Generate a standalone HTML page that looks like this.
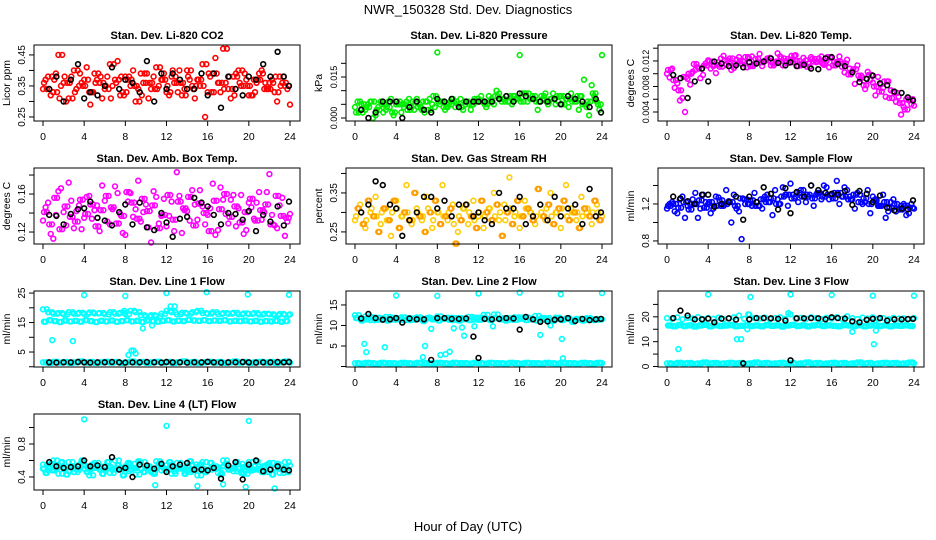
<!DOCTYPE html>
<html><head><meta charset="utf-8">
<style>
html,body{margin:0;padding:0;background:#fff;}
svg{display:block;font-family:"Liberation Sans",Arial,sans-serif;}
</style></head>
<body>
<svg id="chart" width="936" height="540" viewBox="0 0 936 540">
<text x="468" y="14" font-size="13" text-anchor="middle">NWR_150328 Std. Dev. Diagnostics</text>
<text x="468" y="531" font-size="13" text-anchor="middle">Hour of Day (UTC)</text>
</svg>
<script>
const hrsA=[0,0.5,1,1.5,2,2.5,3,3.5,4,4.5,5,5.5,6,6.5,7,7.5,8,8.5,9,9.5,10,10.5,11,11.5,12,12.5,13,13.5,14,14.5,15,15.5,16,16.5,17,17.5,18,18.5,19,19.5,20,20.5,21,21.5,22,22.5,23,23.5,24];
const hrsB=[0.25,0.75,1.25,1.75,2.25,2.75,3.25,3.75,4.25,4.75,5.25,5.75,6.25,6.75,7.25,7.75,8.25,8.75,9.25,9.75,10.25,10.75,11.25,11.75,12.25,12.75,13.25,13.75,14.25,14.75,15.25,15.75,16.25,16.75,17.25,17.75,18.25,18.75,19.25,19.75,20.25,20.75,21.25,21.75,22.25,22.75,23.25,23.75];
const hrsC=[0.1,0.6,1.1,1.6,2.1,2.6,3.1,3.6,4.1,4.6,5.1,5.6,6.1,6.6,7.1,7.6,8.1,8.6,9.1,9.6,10.1,10.6,11.1,11.6,12.1,12.6,13.1,13.6,14.1,14.6,15.1,15.6,16.1,16.6,17.1,17.6,18.1,18.6,19.1,19.6,20.1,20.6,21.1,21.6,22.1,22.6,23.1,23.6];
const hrsD=[0.37,0.87,1.37,1.87,2.37,2.87,3.37,3.87,4.37,4.87,5.37,5.87,6.37,6.87,7.37,7.87,8.37,8.87,9.37,9.87,10.37,10.87,11.37,11.87,12.37,12.87,13.37,13.87,14.37,14.87,15.37,15.87,16.37,16.87,17.37,17.87,18.37,18.87,19.37,19.87,20.37,20.87,21.37,21.87,22.37,22.87,23.37,23.87];
const hrsK=[0.6,1.3,2.0,2.7,3.4,4.0,4.6,5.3,6.0,6.7,7.4,8.0,8.7,9.4,10.1,10.8,11.5,12.0,12.6,13.3,14.0,14.7,15.4,16.0,16.6,17.3,18.0,18.7,19.4,20.0,20.7,21.4,22.1,22.8,23.4,23.9];
const xTicks=[0,4,8,12,16,20,24];

const co2A=[0.34,0.38,0.33,0.45,0.36,0.31,0.40,0.35,0.37,0.33,0.39,0.36,0.34,0.42,0.37,0.32,0.38,0.35,0.30,0.39,0.36,0.34,0.41,0.37,0.33,0.38,0.36,0.32,0.40,0.35,0.37,0.42,0.33,0.39,0.36,0.47,0.34,0.38,0.40,0.35,0.32,0.37,0.39,0.34,0.36,0.33,0.38,0.35,0.29];
const co2B=[0.37,0.32,0.39,0.35,0.30,0.38,0.34,0.36,0.41,0.33,0.37,0.31,0.38,0.35,0.43,0.33,0.37,0.40,0.34,0.36,0.31,0.38,0.35,0.39,0.32,0.36,0.40,0.34,0.37,0.31,0.35,0.25,0.38,0.44,0.33,0.36,0.31,0.39,0.35,0.37,0.32,0.36,0.40,0.34,0.37,0.30,0.36,0.34];
const co2C=[0.36,0.34,0.37,0.31,0.38,0.36,0.33,0.39,0.35,0.29,0.36,0.38,0.35,0.31,0.36,0.38,0.33,0.37,0.35,0.32,0.39,0.36,0.34,0.37,0.35,0.40,0.33,0.36,0.38,0.34,0.37,0.35,0.39,0.33,0.36,0.34,0.38,0.32,0.36,0.39,0.35,0.33,0.37,0.36,0.34,0.38,0.35,0.36];
const co2K=[0.34,0.38,0.30,0.37,0.42,0.31,0.33,0.32,0.35,0.41,0.34,0.37,0.36,0.33,0.43,0.30,0.39,0.34,0.39,0.37,0.34,0.34,0.39,0.32,0.39,0.28,0.38,0.34,0.32,0.38,0.37,0.42,0.38,0.46,0.38,0.35];

const prA=[0.004,0.006,0.003,0.006,0.001,0.006,0.003,0.007,0.005,0.002,0.006,0.004,0.007,0.003,0.006,0.005,0.024,0.006,0.004,0.007,0.005,0.003,0.006,0.005,0.007,0.006,0.008,0.005,0.009,0.007,0.006,0.008,0.023,0.009,0.007,0.008,0.006,0.009,0.007,0.005,0.008,0.007,0.009,0.006,0.008,0.004,0.012,0.006,0.023];
const prB=[0.006,0.002,0.005,0.000,0.004,0.002,0.006,0.001,0.005,0.004,0.007,0.003,0.005,0.002,0.007,0.004,0.005,0.003,0.006,0.004,0.007,0.005,0.003,0.006,0.008,0.004,0.007,0.010,0.006,0.008,0.005,0.007,0.009,0.006,0.008,0.003,0.007,0.005,0.009,0.006,0.008,0.004,0.007,0.003,0.014,0.001,0.008,0.003];
const prC=[0.002,0.005,0.004,0.006,0.003,0.005,0.004,0.002,0.006,0.005,0.003,0.006,0.004,0.006,0.003,0.008,0.006,0.004,0.005,0.006,0.004,0.006,0.005,0.007,0.006,0.005,0.006,0.008,0.007,0.006,0.008,0.007,0.006,0.009,0.007,0.006,0.008,0.006,0.007,0.008,0.005,0.007,0.006,0.008,0.005,0.006,0.009,0.005];
const prK=[0.003,0.000,0.002,0.006,0.006,0.006,0.000,0.004,0.006,0.003,0.002,0.007,0.006,0.007,0.004,0.006,0.006,0.006,0.006,0.006,0.007,0.008,0.006,0.009,0.008,0.007,0.006,0.006,0.007,0.005,0.008,0.007,0.006,0.004,0.007,0.002];

const tmA=[0.0100,0.0108,0.0085,0.0062,0.0092,0.0103,0.0110,0.0098,0.0121,0.0112,0.0118,0.0128,0.0117,0.0109,0.0126,0.0119,0.0124,0.0115,0.0131,0.0120,0.0125,0.0116,0.0127,0.0119,0.0122,0.0129,0.0113,0.0121,0.0126,0.0118,0.0127,0.0120,0.0125,0.0117,0.0111,0.0122,0.0104,0.0113,0.0094,0.0103,0.0086,0.0095,0.0078,0.0088,0.0072,0.0064,0.0048,0.0058,0.0050];
const tmB=[0.0094,0.0078,0.0058,0.0040,0.0083,0.0106,0.0093,0.0116,0.0108,0.0101,0.0124,0.0114,0.0106,0.0122,0.0115,0.0110,0.0127,0.0118,0.0112,0.0124,0.0117,0.0132,0.0113,0.0123,0.0118,0.0112,0.0125,0.0116,0.0119,0.0124,0.0114,0.0110,0.0118,0.0127,0.0102,0.0108,0.0084,0.0092,0.0076,0.0090,0.0066,0.0083,0.0064,0.0074,0.0056,0.0036,0.0060,0.0052];
const tmC=[0.0106,0.0090,0.0074,0.0095,0.0100,0.0115,0.0108,0.0113,0.0119,0.0114,0.0111,0.0121,0.0124,0.0116,0.0120,0.0126,0.0112,0.0123,0.0118,0.0121,0.0113,0.0119,0.0124,0.0117,0.0128,0.0120,0.0116,0.0111,0.0123,0.0119,0.0116,0.0126,0.0113,0.0119,0.0116,0.0099,0.0107,0.0097,0.0082,0.0098,0.0080,0.0072,0.0088,0.0062,0.0070,0.0054,0.0044,0.0060];
const tmK=[0.0098,0.0093,0.0062,0.0088,0.0108,0.0088,0.0119,0.0116,0.0112,0.0113,0.0110,0.0118,0.0116,0.0119,0.0124,0.0117,0.0113,0.0118,0.0112,0.0114,0.0108,0.0107,0.0124,0.0126,0.0115,0.0112,0.0102,0.0087,0.0092,0.0097,0.0085,0.0082,0.0072,0.0070,0.0063,0.0058];

const abA=[0.132,0.151,0.113,0.163,0.141,0.172,0.124,0.148,0.135,0.158,0.143,0.121,0.153,0.128,0.168,0.139,0.117,0.161,0.144,0.131,0.149,0.109,0.157,0.137,0.126,0.152,0.183,0.119,0.142,0.164,0.133,0.147,0.138,0.171,0.122,0.154,0.129,0.159,0.145,0.118,0.151,0.134,0.162,0.141,0.181,0.127,0.148,0.116,0.139];
const abB=[0.146,0.118,0.138,0.166,0.127,0.153,0.142,0.123,0.157,0.134,0.148,0.169,0.131,0.144,0.161,0.119,0.152,0.136,0.174,0.141,0.125,0.163,0.129,0.155,0.137,0.121,0.158,0.143,0.132,0.149,0.164,0.128,0.145,0.117,0.167,0.139,0.154,0.126,0.159,0.122,0.146,0.151,0.133,0.162,0.138,0.124,0.156,0.131];
const abC=[0.141,0.128,0.156,0.123,0.147,0.136,0.131,0.154,0.139,0.149,0.126,0.143,0.158,0.146,0.129,0.137,0.162,0.151,0.134,0.155,0.142,0.148,0.124,0.138,0.159,0.133,0.152,0.145,0.157,0.127,0.150,0.140,0.121,0.153,0.144,0.160,0.136,0.147,0.130,0.141,0.155,0.132,0.143,0.149,0.128,0.158,0.137,0.135];
const abK=[0.138,0.137,0.128,0.139,0.144,0.145,0.152,0.135,0.132,0.127,0.141,0.149,0.128,0.151,0.125,0.122,0.140,0.130,0.115,0.134,0.136,0.156,0.151,0.147,0.138,0.128,0.140,0.139,0.133,0.142,0.121,0.138,0.131,0.147,0.127,0.152];

const rhA=[0.28,0.32,0.26,0.30,0.34,0.27,0.31,0.24,0.33,0.29,0.37,0.27,0.31,0.28,0.34,0.26,0.30,0.37,0.28,0.32,0.25,0.31,0.27,0.33,0.29,0.26,0.31,0.35,0.28,0.32,0.39,0.29,0.26,0.33,0.30,0.27,0.32,0.28,0.35,0.30,0.26,0.37,0.31,0.28,0.34,0.30,0.27,0.32,0.29];
const rhB=[0.31,0.27,0.33,0.29,0.25,0.31,0.28,0.33,0.26,0.30,0.28,0.35,0.29,0.25,0.30,0.33,0.27,0.29,0.31,0.22,0.28,0.32,0.29,0.26,0.33,0.30,0.28,0.32,0.24,0.30,0.27,0.33,0.29,0.31,0.28,0.36,0.29,0.32,0.27,0.31,0.33,0.28,0.30,0.26,0.31,0.29,0.33,0.28];
const rhC=[0.29,0.30,0.28,0.31,0.29,0.30,0.28,0.30,0.31,0.29,0.30,0.28,0.30,0.29,0.31,0.28,0.30,0.29,0.30,0.27,0.29,0.31,0.30,0.28,0.30,0.29,0.31,0.29,0.30,0.28,0.31,0.30,0.29,0.31,0.30,0.29,0.30,0.31,0.29,0.30,0.31,0.29,0.30,0.30,0.29,0.31,0.30,0.30];
const rhK=[0.30,0.32,0.38,0.37,0.32,0.31,0.24,0.28,0.30,0.34,0.34,0.31,0.33,0.29,0.32,0.32,0.29,0.30,0.28,0.27,0.35,0.31,0.31,0.34,0.27,0.29,0.32,0.28,0.34,0.29,0.31,0.32,0.27,0.36,0.29,0.30];

const sfA=[1.15,1.22,1.10,1.28,1.18,1.25,1.05,1.30,1.20,1.15,1.27,1.18,1.23,1.30,1.12,1.25,1.20,1.32,1.18,1.28,1.22,1.35,1.20,1.30,1.42,1.28,1.35,1.22,1.40,1.30,1.25,1.38,1.30,1.45,1.28,1.35,1.25,1.32,1.20,1.35,1.28,1.18,1.30,1.12,1.25,1.15,1.20,1.10,1.15];
const sfB=[1.20,1.12,1.25,1.05,1.20,1.32,1.15,1.22,1.10,1.28,1.18,1.35,1.00,1.15,0.82,1.25,1.18,1.22,1.15,1.30,1.08,1.25,1.38,1.18,1.30,1.22,1.35,1.28,1.18,1.32,1.40,1.25,1.32,1.20,1.38,1.28,1.15,1.30,1.22,1.10,1.25,1.18,1.05,1.22,1.12,1.18,1.08,1.20];
const sfC=[1.18,1.20,1.16,1.22,1.14,1.20,1.24,1.16,1.22,1.18,1.24,1.20,1.22,1.18,1.26,1.20,1.24,1.18,1.25,1.22,1.26,1.20,1.28,1.30,1.26,1.32,1.28,1.30,1.26,1.32,1.28,1.30,1.26,1.32,1.28,1.25,1.30,1.22,1.26,1.20,1.24,1.18,1.22,1.16,1.20,1.14,1.18,1.16];
const sfK=[1.28,1.26,1.23,1.20,1.30,1.30,1.17,1.20,1.22,1.28,1.03,1.28,1.22,1.38,1.31,1.14,1.37,1.10,1.33,1.28,1.40,1.35,1.32,1.31,1.30,1.34,1.19,1.34,1.31,1.22,1.29,1.16,1.13,1.15,1.14,1.24];

const l1A=[19.5,18.5,18.0,18.2,17.8,18.5,18.0,18.3,17.9,18.4,18.1,18.2,17.8,18.5,18.0,18.3,17.9,19.0,18.5,17.5,17.0,17.5,17.2,18.0,19.0,18.5,17.8,18.3,18.0,18.5,19.0,18.2,18.0,18.5,17.9,18.2,18.0,18.3,17.8,18.1,17.9,18.2,17.7,18.0,17.8,17.5,17.9,17.6,17.8];
const l1B=[15.3,15.8,15.5,15.2,15.7,15.4,15.6,15.3,15.8,15.5,15.2,15.6,15.4,15.7,15.3,15.5,15.8,15.4,15.6,15.2,15.7,15.5,15.3,15.6,15.8,15.4,15.6,15.5,15.9,15.7,15.6,15.8,15.5,15.7,15.6,15.8,15.4,15.6,15.5,15.7,15.4,15.6,15.3,15.5,15.4,15.6,15.3,15.5];
const l1C=[1.5,1.3,1.7,1.4,1.6,1.3,1.5,1.8,1.4,1.6,1.3,1.5,1.7,1.4,1.6,1.3,1.5,1.8,1.4,1.6,1.3,1.5,1.7,1.4,1.6,1.3,1.5,1.8,1.4,1.6,1.3,1.5,1.7,1.4,1.6,1.3,1.5,1.8,1.4,1.6,1.3,1.5,1.7,1.4,1.6,1.3,1.5,1.8,1.4];
const l1OHrs=[0.9,2.9,4.0,7.9,8.0,8.3,8.6,8.8,9.0,9.7,10.6,12.0,12.4,12.8,15.9,19.9,23.9];
const l1O=[9,8.7,24.3,19,24,4,5.5,5.5,4.5,13,14,25,20.5,20.5,25.3,24.5,24.4];
const l1K=[1.5,1.4,1.5,1.5,1.6,1.5,1.4,1.5,1.5,1.6,1.5,1.4,1.5,1.5,1.6,1.5,1.4,1.6,1.5,1.5,1.4,1.5,1.5,1.7,1.5,1.4,1.5,1.5,1.6,1.5,1.4,1.5,1.5,1.6,1.5,1.6];

const l2A=[12.5,11.6,12.2,11.3,11.9,11.5,12.1,11.4,11.8,12.0,11.3,11.7,12.0,11.4,11.8,11.5,12.2,11.6,11.9,11.3,11.8,11.5,12.1,11.4,11.9,12.6,11.5,12.7,11.6,11.8,11.4,12.0,11.6,11.9,11.5,12.3,11.4,11.8,11.2,11.9,11.5,11.7,11.2,11.6,11.3,11.8,11.4,11.6,11.5];
const l2B=[11.8,11.2,11.5,12.0,11.4,11.7,11.2,11.9,11.5,11.3,11.8,11.4,11.6,11.1,11.9,11.5,11.2,11.7,11.4,11.8,11.2,11.6,11.3,11.9,11.4,11.7,11.3,11.8,11.5,11.2,11.7,11.4,11.9,11.3,11.6,11.2,11.8,11.4,11.1,11.6,11.3,11.7,10.9,11.5,11.2,11.6,11.3,11.4];
const l2C=[0.8,0.7,0.9,0.8,0.7,0.9,0.8,0.8,0.7,0.9,0.8,0.7,0.9,0.8,0.8,0.7,0.9,0.8,0.7,0.9,0.8,0.8,0.7,0.9,0.8,0.7,0.9,0.8,0.8,0.7,0.9,0.8,0.7,0.9,0.8,0.8,0.7,0.9,0.8,0.7,0.9,0.8,0.8,0.7,0.9,0.8,0.7,0.9,0.8];
const l2OHrs=[0.9,1.1,2.9,4.0,6.6,6.8,7.4,8.0,8.3,8.8,9.2,9.6,10.4,10.6,11.6,12.0,13.4,16.0,18.0,19.0,20.0,20.1,20.2,24.0];
const l2O=[5.5,3.5,4.7,17.3,2.3,5.0,9.2,17.2,2.8,3.0,3.6,9.3,9.5,7.5,9.8,17.8,9.8,18.0,7.7,10.0,17.6,6.7,2.0,17.9];
const l2K=[11.7,12.8,11.8,11.4,11.5,11.8,10.7,11.7,11.5,11.5,1.6,11.8,11.8,11.6,11.6,11.7,7.3,2.1,11.6,11.5,11.6,11.8,11.7,9.0,12.1,11.5,10.9,11.0,11.4,11.5,11.8,11.1,11.6,11.3,11.5,11.6];

const l3A=[19.5,19.2,19.8,19.0,19.6,19.3,19.9,19.1,19.5,19.2,19.7,19.0,19.4,19.8,20.5,19.2,20.8,19.5,19.3,19.7,19.1,19.5,19.8,19.2,21.0,19.4,19.6,19.2,19.8,19.5,19.1,19.6,19.3,19.9,19.2,20.2,19.5,19.1,19.7,19.3,19.8,19.2,19.5,19.0,19.6,19.3,19.4,19.2,19.5];
const l3B=[16.5,16.2,16.7,16.3,16.6,16.1,16.5,16.8,16.2,16.6,16.3,16.5,16.7,16.2,16.4,16.6,16.3,16.5,16.2,16.7,16.4,16.6,16.1,16.5,16.8,16.3,16.6,16.2,16.5,16.7,16.3,16.6,16.4,16.2,16.7,16.5,16.3,16.6,16.2,16.5,16.7,16.3,16.6,16.2,16.5,16.4,16.6,16.3];
const l3C=[1.3,1.1,1.5,1.2,1.4,1.0,1.3,1.6,1.2,1.4,1.1,1.3,1.5,1.2,1.4,1.1,1.3,1.6,1.2,1.4,1.1,1.3,1.5,1.2,1.4,1.1,1.3,1.6,1.2,1.4,1.1,1.3,1.5,1.2,1.4,1.1,1.3,1.6,1.2,1.4,1.1,1.3,1.5,1.2,1.4,1.1,1.3,1.6,1.2];
const l3OHrs=[1.1,4.0,6.8,7.2,7.8,7.9,8.1,11.8,12.0,16.0,18.0,20.0,20.1,20.3,24.0];
const l3O=[7,29,11,11,15,21,28,21.5,29,28.8,14,28.5,9,14.5,28.5];
const l3K=[19.5,22.5,20.5,19.0,19.0,19.3,17.8,19.3,19.4,18.9,1.3,19.0,19.5,19.5,19.4,19.2,18.5,2.5,19.4,19.4,19.5,19.4,19.0,19.8,19.5,19.3,18.2,17.8,18.8,19.2,19.5,18.5,19.0,19.0,19.1,19.2];

const l4A=[0.55,0.48,0.60,0.44,0.52,0.58,0.46,0.55,0.50,0.42,0.57,0.49,0.53,0.45,0.60,0.50,0.47,0.56,0.43,0.58,0.51,0.46,0.59,0.48,0.54,0.44,0.57,0.50,0.46,0.55,0.42,0.58,0.49,0.53,0.45,0.60,0.50,0.47,0.56,0.44,0.58,0.49,0.53,0.46,0.57,0.50,0.45,0.58,0.54];
const l4B=[0.45,0.56,0.50,0.58,0.43,0.53,0.49,0.60,0.46,0.55,0.51,0.44,0.58,0.49,0.54,0.42,0.57,0.51,0.59,0.46,0.53,0.44,0.56,0.50,0.58,0.47,0.52,0.44,0.59,0.49,0.55,0.46,0.57,0.50,0.43,0.56,0.51,0.58,0.45,0.53,0.48,0.59,0.46,0.55,0.43,0.56,0.50,0.46];
const l4C=[0.50,0.52,0.48,0.53,0.50,0.47,0.52,0.50,0.54,0.49,0.51,0.53,0.48,0.52,0.50,0.51,0.53,0.49,0.51,0.50,0.52,0.48,0.51,0.53,0.49,0.52,0.50,0.51,0.53,0.48,0.52,0.50,0.49,0.52,0.51,0.53,0.49,0.51,0.50,0.52,0.48,0.53,0.50,0.52,0.49,0.51,0.50,0.52];
const l4OHrs=[4.0,10.9,12.0,15.0,17.5,19.7,20.0,22.5];
const l4O=[1.10,0.30,1.02,0.29,0.31,0.28,1.08,0.26];
const l4K=[0.58,0.53,0.51,0.52,0.53,0.60,0.53,0.54,0.52,0.64,0.49,0.51,0.40,0.55,0.54,0.50,0.56,0.46,0.53,0.55,0.57,0.49,0.49,0.48,0.51,0.38,0.54,0.58,0.37,0.55,0.60,0.47,0.49,0.53,0.49,0.48];

const panels=[
 {name:'co2',title:'Stan. Dev. Li-820 CO2',ylab:'Licor ppm',col:0,row:0,ymin:0.237,ymax:0.482,ticks:[0.25,0.30,0.35,0.40,0.45],labels:{'0.25':'0.25','0.35':'0.35','0.45':'0.45'},
  series:[[hrsA,co2A,'#ff0000'],[hrsB,co2B,'#ff0000'],[hrsC,co2C,'#ff0000'],[hrsD,co2A,'#ff0000'],[hrsK,co2K,'#000']]},
 {name:'pressure',title:'Stan. Dev. Li-820 Pressure',ylab:'kPa',col:1,row:0,ymin:-0.0011,ymax:0.0267,ticks:[0,0.005,0.010,0.015,0.020],labels:{'0':'0.000','0.015':'0.015'},
  series:[[hrsA,prA,'#00ee00'],[hrsB,prB,'#00ee00'],[hrsC,prC,'#00ee00'],[hrsD,prC,'#00ee00'],[hrsK,prK,'#000']]},
 {name:'li820-temp',title:'Stan. Dev. Li-820 Temp.',ylab:'degrees C',col:2,row:0,ymin:0.00259,ymax:0.0145,ticks:[0.004,0.006,0.008,0.010,0.012,0.014],labels:{'0.004':'0.004','0.008':'0.008','0.012':'0.012'},
  series:[[hrsA,tmA,'#ff00ff'],[hrsB,tmB,'#ff00ff'],[hrsC,tmC,'#ff00ff'],[hrsD,tmC,'#ff00ff'],[hrsK,tmK,'#000']]},
 {name:'amb-box-temp',title:'Stan. Dev. Amb. Box Temp.',ylab:'degrees C',col:0,row:1,ymin:0.1074,ymax:0.1874,ticks:[0.12,0.14,0.16,0.18],labels:{'0.12':'0.12','0.16':'0.16'},
  series:[[hrsA,abA,'#ff00ff'],[hrsB,abB,'#ff00ff'],[hrsC,abC,'#ff00ff'],[hrsD,abC,'#ff00ff'],[hrsK,abK,'#000']]},
 {name:'gas-stream-rh',title:'Stan. Dev. Gas Stream RH',ylab:'percent',col:1,row:1,ymin:0.219,ymax:0.414,ticks:[0.25,0.30,0.35,0.40],labels:{'0.25':'0.25','0.35':'0.35'},
  series:[[hrsA,rhA,'#ffcc00'],[hrsB,rhB,'#ffaa00'],[hrsC,rhC,'#ffcc00'],[hrsD,rhB,'#ff9900'],[hrsK,rhK,'#000']]},
 {name:'sample-flow',title:'Stan. Dev. Sample Flow',ylab:'ml/min',col:2,row:1,ymin:0.767,ymax:1.589,ticks:[0.8,1.0,1.2,1.4],labels:{'0.8':'0.8','1.2':'1.2'},
  series:[[hrsA,sfA,'#0000ff'],[hrsB,sfB,'#0000ff'],[hrsC,sfC,'#0000ff'],[hrsD,sfC,'#0000ff'],[hrsK,sfK,'#000']]},
 {name:'line1-flow',title:'Stan. Dev. Line 1 Flow',ylab:'ml/min',col:0,row:2,ymin:-0.08,ymax:25.7,ticks:[0,5,10,15,20,25],labels:{'5':'5','15':'15','25':'25'},
  series:[[hrsA,l1A,'#00ffff'],[hrsD,l1A,'#00ffff'],[hrsB,l1B,'#00ffff'],[hrsC,l1B,'#00ffff'],[hrsA,l1C,'#00ffff'],[hrsB,l1C,'#00ffff'],[hrsD,l1C,'#00ffff'],[l1OHrs,l1O,'#00ffff'],[hrsK,l1K,'#000']]},
 {name:'line2-flow',title:'Stan. Dev. Line 2 Flow',ylab:'ml/min',col:1,row:2,ymin:-0.12,ymax:18.4,ticks:[0,5,10,15],labels:{'5':'5','10':'10','15':'15'},
  series:[[hrsA,l2A,'#00ffff'],[hrsB,l2B,'#00ffff'],[hrsC,l2B,'#00ffff'],[hrsD,l2A,'#00ffff'],[hrsA,l2C,'#00ffff'],[hrsB,l2C,'#00ffff'],[hrsD,l2C,'#00ffff'],[l2OHrs,l2O,'#00ffff'],[hrsK,l2K,'#000']]},
 {name:'line3-flow',title:'Stan. Dev. Line 3 Flow',ylab:'ml/min',col:2,row:2,ymin:-0.2,ymax:30.4,ticks:[0,5,10,15,20,25],labels:{'0':'0','10':'10','20':'20'},
  series:[[hrsA,l3A,'#00ffff'],[hrsB,l3B,'#00ffff'],[hrsC,l3B,'#00ffff'],[hrsD,l3B,'#00ffff'],[hrsA,l3C,'#00ffff'],[hrsB,l3C,'#00ffff'],[hrsD,l3C,'#00ffff'],[l3OHrs,l3O,'#00ffff'],[hrsK,l3K,'#000']]},
 {name:'line4-flow',title:'Stan. Dev. Line 4 (LT) Flow',ylab:'ml/min',col:0,row:3,ymin:0.242,ymax:1.164,ticks:[0.4,0.6,0.8,1.0],labels:{'0.4':'0.4','0.8':'0.8'},
  series:[[hrsA,l4A,'#00ffff'],[hrsB,l4B,'#00ffff'],[hrsC,l4C,'#00ffff'],[hrsA,l4C,'#00ffff'],[hrsD,l4A,'#00ffff'],[hrsD,l4B,'#00ffff'],[l4OHrs,l4O,'#00ffff'],[hrsK,l4K,'#000']]}
];

const NS='http://www.w3.org/2000/svg';
const svg=document.getElementById('chart');
function mk(tag,attrs,parent){const e=document.createElementNS(NS,tag);for(const k in attrs)e.setAttribute(k,attrs[k]);(parent||svg).appendChild(e);return e;}
const colLeft=[34,346,658], rowTop=[45,168,291,414], W=266, H=76;

panels.forEach(p=>{
  const g=mk('g',{});
  
  
  const L=colLeft[p.col], T=rowTop[p.row], B=T+H;
  const xs=h=>L+9+h/24*247;
  const ys=v=>B-(v-p.ymin)/(p.ymax-p.ymin)*H;
  const t=mk('text',{x:L+W/2,y:T-6,'font-size':11,'font-weight':'bold','text-anchor':'middle'},g);
  t.textContent=p.title;
  
  
  const yl=mk('text',{x:0,y:0,'font-size':10.5,'text-anchor':'middle',transform:`translate(${L-24},${T+H/2}) rotate(-90)`},g);
  yl.textContent=p.ylab;
  
  
  const pg=mk('g',{fill:'none','stroke-width':1.6},g);
  
  
  p.series.forEach(s=>{
    const hs=s[0], vs=s[1];
    const n=Math.min(hs.length,vs.length);
    for(let i=0;i<n;i++){
      const c=mk('circle',{cx:xs(hs[i]).toFixed(1),cy:ys(vs[i]).toFixed(1),r:2.4,stroke:s[2]},pg);
      
      
    }
  });
  const box=mk('rect',{x:L,y:T,width:W,height:H,fill:'none',stroke:'#000','stroke-width':1},g);
  
  
  const xa=mk('g',{stroke:'#000','stroke-width':1},g);
  
  
  mk('line',{x1:xs(0),y1:B,x2:xs(24),y2:B},xa);
  xTicks.forEach(v=>{
    mk('line',{x1:xs(v),y1:B,x2:xs(v),y2:B+5},xa);
    const tx=mk('text',{x:xs(v),y:B+19,'font-size':10.5,'text-anchor':'middle',stroke:'none',fill:'#000'},xa);
    tx.textContent=v;
    
    
  });
  const ya=mk('g',{stroke:'#000','stroke-width':1},g);
  
  
  mk('line',{x1:L,y1:ys(p.ticks[0]),x2:L,y2:ys(p.ticks[p.ticks.length-1])},ya);
  p.ticks.forEach(v=>{
    mk('line',{x1:L-5,y1:ys(v),x2:L,y2:ys(v)},ya);
    const lab=p.labels[String(v)];
    if(lab!==undefined){
      const fs=lab.length>4?9:10;
      const ty=mk('text',{x:0,y:0,'font-size':fs,'text-anchor':'middle',stroke:'none',fill:'#000',transform:`translate(${L-9},${ys(v)}) rotate(-90)`},ya);
      ty.textContent=lab;
      
      
    }
  });
});
</script>
</body></html>
